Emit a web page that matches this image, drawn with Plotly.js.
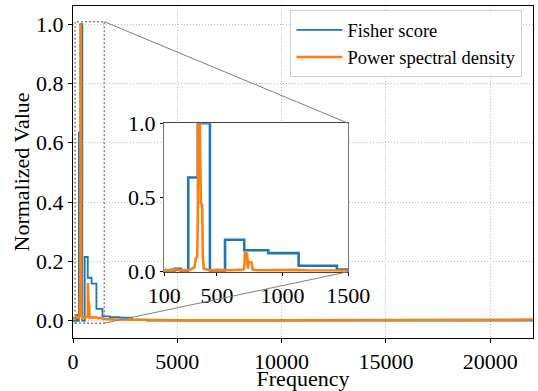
<!DOCTYPE html>
<html>
<head>
<meta charset="utf-8">
<script src="https://cdn.plot.ly/plotly-3.0.1.min.js"></script>
<style>html,body{margin:0;padding:0;background:#fff;}#chart{width:538px;height:391px;}</style>
</head>
<body>
<div id="chart"></div>
<script>
// Fisher score per frequency band (band lower edges, step function)
const fisherFreq = [0, 141, 178, 224, 282, 355, 447, 562, 708, 891, 1122, 1413, 1778, 2239, 2818, 3548, 4467, 22050];
const fisherValue = [0.0, 0.0, 0.02, 0.0, 0.635, 1.0, 0.0, 0.215, 0.145, 0.125, 0.04, 0.015, 0.012, 0.011, 0.004, 0.001, 0.001, 0.001];

// Power spectral density (normalized)
const psdFreq = [0, 50, 100, 110, 130, 150, 200, 250, 300, 330, 340, 350, 355, 358, 370, 375, 378, 388, 393, 400, 450, 500, 600, 700, 708, 714, 730, 736, 740, 765, 772, 800, 900, 1000, 1100, 1200, 1300, 1400, 1500, 2000, 3000, 5000, 10000, 15000, 20000, 22050];
const psdValue = [0.005, 0.01, 0.008, 0.014, 0.008, 0.015, 0.012, 0.01, 0.015, 0.03, 0.09, 0.1, 0.35, 1.0, 1.0, 0.46, 0.46, 0.45, 0.1, 0.02, 0.01, 0.012, 0.01, 0.015, 0.02, 0.128, 0.12, 0.02, 0.067, 0.06, 0.015, 0.01, 0.012, 0.01, 0.012, 0.008, 0.01, 0.008, 0.006, 0.004, 0.003, 0.002, 0.002, 0.002, 0.003, 0.004];

const xTicks = [0, 5000, 10000, 15000, 20000];
const yTicks = [0, 0.2, 0.4, 0.6, 0.8, 1.0];
const insetXTicks = [100, 500, 1000, 1500];
const insetYTicks = [0, 0.5, 1.0];

const BLUE = '#1f77b4', ORANGE = '#ff7f0e';
const FONT = '"Liberation Serif"';

const xRange = [0, 22050], yRange = [-0.058, 1.061];
const inXRange = [100, 1500], inYRange = [0, 1];
const boxY = [-0.008, 1.008];
const inDomX = [0.1985, 0.5985], inDomY = [0.1997, 0.6467];

function toMainX(f){ return xRange[0] + f*(xRange[1]-xRange[0]); }
function toMainY(f){ return yRange[0] + f*(yRange[1]-yRange[0]); }

const traces = [
  {x: fisherFreq, y: fisherValue, type: 'scatter', mode: 'lines', line: {color: BLUE, width: 1.8, shape: 'hv'}, name: 'Fisher score', xaxis: 'x', yaxis: 'y'},
  {x: psdFreq, y: psdValue, type: 'scatter', mode: 'lines', line: {color: ORANGE, width: 2.5}, name: 'Power spectral density', xaxis: 'x', yaxis: 'y'},
  {x: fisherFreq, y: fisherValue, type: 'scatter', mode: 'lines', line: {color: BLUE, width: 2.6, shape: 'hv'}, showlegend: false, xaxis: 'x2', yaxis: 'y2'},
  {x: psdFreq, y: psdValue, type: 'scatter', mode: 'lines', line: {color: ORANGE, width: 2.6}, showlegend: false, xaxis: 'x2', yaxis: 'y2'}
];

const axisCommon = {
  showline: true, mirror: true, linecolor: '#000', linewidth: 1,
  ticks: 'outside', ticklen: 4, tickcolor: '#000', tickwidth: 1,
  zeroline: false, tickfont: {family: FONT, size: 22, color: '#000'}
};

const layout = {
  width: 538, height: 391,
  margin: {l: 73, r: 5, t: 6, b: 53},
  paper_bgcolor: '#fff', plot_bgcolor: '#fff',
  font: {family: FONT, color: '#000'},
  showlegend: true,
  legend: {x: 0.977, xanchor: 'right', y: 0.987, yanchor: 'top', bgcolor: '#fff', bordercolor: '#d0d0d0', borderwidth: 1, itemwidth: 46, font: {family: FONT, size: 18.5, color: '#000'}, tracegroupgap: 0},
  xaxis: Object.assign({}, axisCommon, {
    domain: [0, 1], range: xRange, tickmode: 'array', tickvals: xTicks, ticktext: xTicks.map(String),
    ticklen: 3.5,
    showgrid: true, gridcolor: '#bdbdbd', griddash: '1px,2px', gridwidth: 1,
    title: {text: 'Frequency', font: {family: FONT, size: 22, color: '#000'}, standoff: 1}
  }),
  yaxis: Object.assign({}, axisCommon, {
    domain: [0, 1], range: yRange, tickmode: 'array', tickvals: yTicks, ticktext: yTicks.map(v => v.toFixed(1)),
    showgrid: true, gridcolor: '#bdbdbd', griddash: '1px,2px', gridwidth: 1,
    title: {text: 'Normalized Value', font: {family: FONT, size: 22, color: '#000'}, standoff: 0}
  }),
  xaxis2: Object.assign({}, axisCommon, {
    domain: inDomX, range: inXRange, anchor: 'y2', tickmode: 'array', tickvals: insetXTicks, ticktext: insetXTicks.map(String),
    showgrid: false, linecolor: '#444', ticklen: 3.5
  }),
  yaxis2: Object.assign({}, axisCommon, {
    domain: inDomY, range: inYRange, anchor: 'x2', tickmode: 'array', tickvals: insetYTicks, ticktext: insetYTicks.map(v => v.toFixed(1)),
    showgrid: false, linecolor: '#777', ticklen: 3.5
  }),
  shapes: [
    // white background of inset (covers main grid)
    {type: 'rect', xref: 'x', yref: 'y', layer: 'between', x0: toMainX(inDomX[0]), x1: toMainX(inDomX[1]), y0: toMainY(inDomY[0]), y1: toMainY(inDomY[1]), fillcolor: '#fff', line: {width: 0}},
    // zoom indicator box
    {type: 'rect', xref: 'x', yref: 'y', layer: 'above', x0: inXRange[0], x1: inXRange[1], y0: boxY[0], y1: boxY[1], line: {color: '#888', width: 1.5, dash: '2px,2px'}},
    // connectors
    {type: 'line', xref: 'x', yref: 'y', layer: 'above', x0: inXRange[1], y0: boxY[1], x1: toMainX(inDomX[1]), y1: toMainY(inDomY[1]), line: {color: '#808080', width: 1}},
    {type: 'line', xref: 'x', yref: 'y', layer: 'above', x0: inXRange[1], y0: boxY[0], x1: toMainX(inDomX[1]), y1: toMainY(inDomY[0]), line: {color: '#808080', width: 1}}
  ]
};

Plotly.newPlot('chart', traces, layout, {displayModeBar: false, staticPlot: true});
</script>
</body>
</html>
